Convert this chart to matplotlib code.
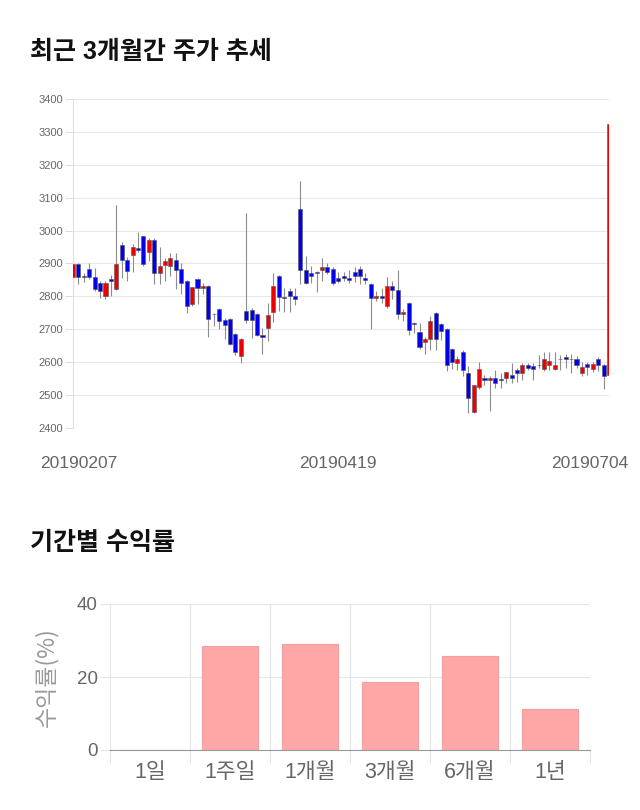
import matplotlib
matplotlib.use("Agg")
import matplotlib.pyplot as plt
import matplotlib.transforms as mtransforms
import numpy as np

plt.rcParams["font.family"] = ["Liberation Sans", "Noto Sans CJK KR", "DejaVu Sans"]

# 일봉 데이터 (시가, 고가, 저가, 종가) - 그림에서 읽은 값
opens = [2860, 2898, 2862, 2883, 2860, 2842, 2801, 2852, 2824, 2957,
         2911, 2927, 2946, 2983, 2936, 2971, 2872, 2896, 2891, 2911,
         2883, 2847, 2776, 2852, 2827, 2832, 2748, 2762, 2728, 2732,
         2686, 2619, 2756, 2760, 2746, 2683, 2705, 2753, 2862, 2797,
         2817, 2801, 3067, 2880, 2871, 2873, 2880, 2890, 2883, 2857,
         2862, 2857, 2873, 2883, 2857, 2837, 2796, 2801, 2771, 2832,
         2820, 2748, 2781, 2719, 2691, 2660, 2670, 2749, 2716, 2701,
         2640, 2599, 2631, 2567, 2450, 2526, 2552, 2545, 2552, 2548,
         2551, 2561, 2577, 2568, 2592, 2587, 2593, 2579, 2590, 2580,
         2611, 2615, 2611, 2610, 2566, 2595, 2580, 2610, 2590, 2560]
highs = [2900, 2900, 2870, 2900, 2885, 2847, 2847, 2864, 3078, 2964,
         2921, 2959, 2995, 2985, 2979, 2979, 2949, 2916, 2932, 2932,
         2901, 2850, 2830, 2855, 2842, 2834, 2750, 2765, 2733, 2735,
         2690, 2675, 3052, 2765, 2749, 2703, 2781, 2870, 2866, 2825,
         2827, 2827, 3151, 2923, 2893, 2877, 2916, 2900, 2888, 2875,
         2875, 2881, 2888, 2891, 2871, 2842, 2817, 2827, 2860, 2847,
         2881, 2761, 2784, 2723, 2719, 2678, 2739, 2752, 2719, 2704,
         2643, 2618, 2636, 2589, 2531, 2602, 2562, 2557, 2577, 2567,
         2571, 2597, 2582, 2597, 2597, 2599, 2622, 2631, 2631, 2631,
         2622, 2626, 2626, 2620, 2600, 2600, 2600, 2617, 2595, 3325]
lows = [2825, 2837, 2844, 2852, 2816, 2796, 2793, 2801, 2820, 2857,
        2847, 2873, 2936, 2893, 2908, 2837, 2837, 2847, 2862, 2823,
        2806, 2750, 2772, 2776, 2806, 2677, 2709, 2701, 2670, 2653,
        2622, 2599, 2720, 2673, 2680, 2624, 2665, 2723, 2756, 2753,
        2754, 2774, 2837, 2837, 2842, 2812, 2847, 2867, 2834, 2840,
        2847, 2840, 2844, 2837, 2837, 2702, 2786, 2781, 2766, 2793,
        2732, 2726, 2682, 2690, 2640, 2626, 2638, 2636, 2668, 2572,
        2579, 2577, 2557, 2445, 2445, 2518, 2532, 2453, 2522, 2522,
        2536, 2536, 2541, 2546, 2577, 2546, 2582, 2574, 2577, 2577,
        2577, 2582, 2566, 2582, 2559, 2561, 2569, 2572, 2520, 2555]
closes = [2898, 2860, 2858, 2860, 2821, 2816, 2842, 2846, 2897, 2911,
          2878, 2951, 2942, 2898, 2971, 2870, 2893, 2908, 2916, 2881,
          2842, 2770, 2830, 2827, 2832, 2732, 2746, 2724, 2714, 2656,
          2630, 2670, 2727, 2727, 2683, 2678, 2742, 2832, 2798, 2795,
          2801, 2791, 2880, 2842, 2862, 2871, 2890, 2875, 2842, 2847,
          2857, 2850, 2862, 2862, 2850, 2796, 2801, 2796, 2832, 2820,
          2748, 2753, 2697, 2717, 2646, 2670, 2724, 2670, 2696, 2592,
          2602, 2610, 2577, 2491, 2531, 2580, 2545, 2552, 2537, 2546,
          2569, 2551, 2568, 2592, 2582, 2580, 2591, 2610, 2605, 2592,
          2609, 2610, 2609, 2590, 2585, 2585, 2595, 2590, 2559, 3325]
date_ticks = [0, 49, 99]
date_labels = ["20190207", "20190419", "20190704"]
price_ticks = [2400, 2500, 2600, 2700, 2800, 2900, 3000, 3100, 3200, 3300, 3400]

# 기간별 수익률
periods = ["1일", "1주일", "1개월", "3개월", "6개월", "1년"]
returns = [0.0, 28.4, 29.1, 18.7, 25.75, 11.2]

fig = plt.figure(figsize=(6.4, 8.1), dpi=100)

fig.text(30 / 640, 1 - 52 / 810, "최근 3개월간 주가 추세", fontsize=18,
         fontweight="bold", color="#111111", va="center", ha="left")
fig.text(30 / 640, 1 - 543 / 810, "기간별 수익률", fontsize=18,
         fontweight="bold", color="#111111", va="center", ha="left")

# --- 캔들 차트 ---
ax = fig.add_axes([73 / 640, 1 - 428 / 810, 536 / 640, 329 / 810])
o = np.array(opens, dtype=float)
c = np.array(closes, dtype=float)
x = np.arange(len(o))
up = c >= o
ax.vlines(x, lows, highs, color="#8c8c8c", linewidth=0.8, zorder=2)
body_lo = np.minimum(o, c)
body_h = np.maximum(np.abs(c - o), 1.5)
colors = np.where(up, "#ee0000", "#0000ee")
ax.bar(x, body_h, bottom=body_lo, width=0.75, color=colors,
       edgecolor="#555555", linewidth=0.4, zorder=3)

ax.set_xlim(0, len(o) - 1)
ax.set_ylim(2400, 3400)
ax.set_yticks(price_ticks)
ax.tick_params(axis="y", labelsize=8, colors="#dddddd", labelcolor="#666666",
               length=6, width=0.8, pad=1)
ax.set_xticks(date_ticks)
ax.set_xticklabels(date_labels)
ax.tick_params(axis="x", length=0, labelsize=12.5, labelcolor="#666666", pad=20)
ax.grid(axis="y", color="#e8e8e8", linewidth=0.8)
ax.set_axisbelow(True)
for side in ["top", "right", "bottom"]:
    ax.spines[side].set_visible(False)
ax.spines["left"].set_color("#e0e0e0")

shifts = [6, 0, -19]
for lab, dx in zip(ax.get_xticklabels(), shifts):
    lab.set_transform(lab.get_transform() +
                      mtransforms.ScaledTranslation(dx / 100, 0, fig.dpi_scale_trans))

# --- 수익률 막대 ---
bx = fig.add_axes([110 / 640, 1 - 750 / 810, 480 / 640, 146 / 810])
bx.bar(np.arange(len(periods)), returns, width=0.7, color="#ffa6a6",
       edgecolor="#f0a0a0", linewidth=0.8, zorder=3)
bx.set_xlim(-0.5, len(periods) - 0.5)
bx.set_ylim(0, 40)
bx.set_yticks([0, 20, 40])
bx.set_xticks(np.arange(len(periods)))
bx.set_xticklabels(periods, family=["Liberation Sans", "Noto Sans CJK KR"])
bx.set_xticks(np.arange(len(periods) + 1) - 0.5, minor=True)
bx.tick_params(axis="x", which="major", length=0, labelsize=15.5,
               labelcolor="#666666", pad=9)
bx.tick_params(axis="x", which="minor", length=9, color="#e5e5e5", width=0.8)
bx.tick_params(axis="y", labelsize=13.5, labelcolor="#666666", colors="#e5e5e5",
               length=7, width=0.8, pad=2)
bx.grid(axis="y", color="#e5e5e5", linewidth=0.8)
bx.grid(axis="x", which="minor", color="#e5e5e5", linewidth=0.8)
bx.set_axisbelow(True)
for side in ["top", "right", "left"]:
    bx.spines[side].set_visible(False)
bx.spines["bottom"].set_color("#999999")
bx.set_ylabel("수익률(%)", fontsize=16.5, color="#999999", labelpad=13,
              family=["Noto Sans CJK KR", "DejaVu Sans"])

fig.savefig("out.png", dpi=100)
